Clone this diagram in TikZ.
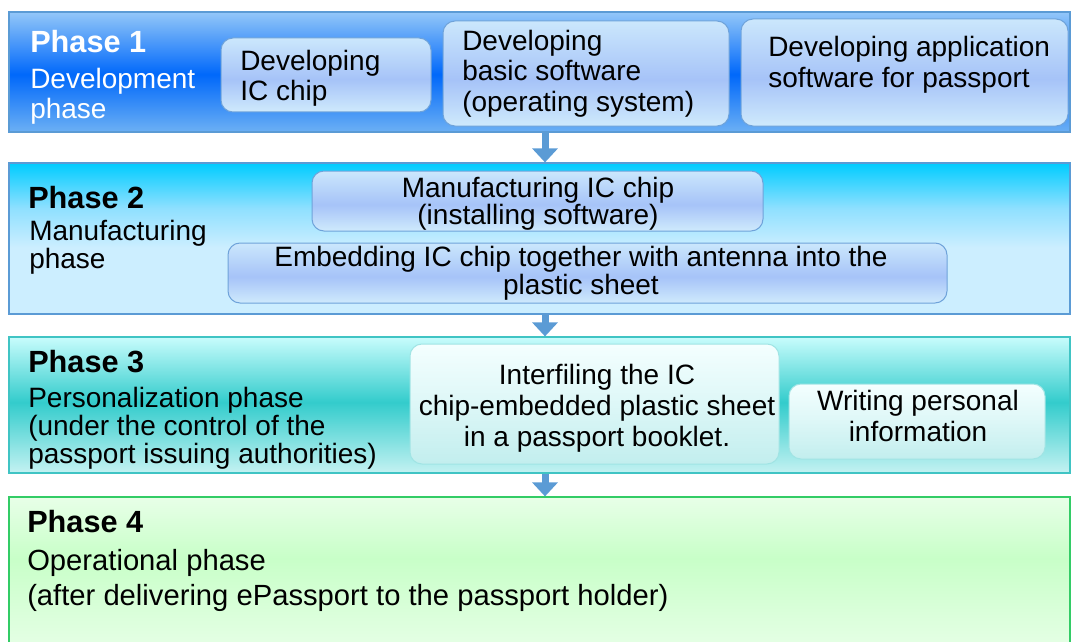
\documentclass[tikz,border=0pt]{standalone}
\usepackage{fontspec}
\setmainfont{Liberation Sans}
\usetikzlibrary{fit,arrows.meta}
\definecolor{p1t}{HTML}{93C7F9}
\definecolor{p1m}{HTML}{0068FA}
\definecolor{p1b}{HTML}{6CB0F4}
\definecolor{p2t}{HTML}{00CCFF}
\definecolor{p2m}{HTML}{8FE0FF}
\definecolor{p2b}{HTML}{CCEEFF}
\definecolor{p3t}{HTML}{C8FCFC}
\definecolor{p3m}{HTML}{33CCCC}
\definecolor{p3b}{HTML}{C4F2F2}
\definecolor{p4t}{HTML}{E8FFE8}
\definecolor{p4m}{HTML}{C8FFC8}
\definecolor{p4b}{HTML}{E6FFE6}
\definecolor{bxt}{HTML}{CBE7FC}
\definecolor{bxm}{HTML}{A6C3F8}
\definecolor{bxb}{HTML}{CFEAFC}
\definecolor{cxt}{HTML}{F4FFFF}
\definecolor{cxm}{HTML}{DDF7F7}
\definecolor{cxb}{HTML}{C2EEEE}
\definecolor{blueline}{HTML}{5B9BD5}
\definecolor{boxline}{HTML}{6FA3DA}
\definecolor{tealline}{HTML}{40C4C4}
\definecolor{cboxline}{HTML}{A0E4E4}
\definecolor{greenline}{HTML}{33CC66}
\pgfdeclareverticalshading{pone}{100bp}{color(0bp)=(p1b); color(25bp)=(p1b); color(49bp)=(p1m); color(75bp)=(p1t); color(100bp)=(p1t)}
\pgfdeclareverticalshading{ptwo}{100bp}{color(0bp)=(p2b); color(25bp)=(p2b); color(47bp)=(p2b); color(60bp)=(p2m); color(75bp)=(p2t); color(100bp)=(p2t)}
\pgfdeclareverticalshading{pthree}{100bp}{color(0bp)=(p3b); color(25bp)=(p3b); color(51bp)=(p3m); color(75bp)=(p3t); color(100bp)=(p3t)}
\pgfdeclareverticalshading{pfour}{100bp}{color(0bp)=(p4b); color(25bp)=(p4b); color(55bp)=(p4m); color(75bp)=(p4t); color(100bp)=(p4t)}
\pgfdeclareverticalshading{bluebox}{100bp}{color(0bp)=(bxb); color(25bp)=(bxb); color(47bp)=(bxm); color(75bp)=(bxt); color(100bp)=(bxt)}
\pgfdeclareverticalshading{cyanbox}{100bp}{color(0bp)=(cxb); color(25bp)=(cxb); color(50bp)=(cxm); color(75bp)=(cxt); color(100bp)=(cxt)}
\tikzset{
  panel/.style={inner sep=0pt, line width=0.9pt},
  bbox/.style={inner sep=0pt, rounded corners=9pt, line width=0.75pt, draw=boxline, shading=bluebox},
  cbox/.style={inner sep=0pt, rounded corners=9pt, line width=0.75pt, draw=cboxline, shading=cyanbox},
  txt/.style={inner sep=0pt, anchor=base west, align=left},
  ctxt/.style={inner sep=0pt, anchor=base, align=center},
  ttl/.style={inner sep=0pt, anchor=base west, font=\fontsize{23pt}{24pt}\selectfont\bfseries},
  flow/.style={draw=blueline, line width=5.25pt, -{Triangle[width=18.75pt,length=10.5pt]}}
}
\begin{document}
\begin{tikzpicture}[x=0.75pt,y=-0.75pt]
\useasboundingbox (0,0) rectangle (1071,642);
% panels
\node[panel, fit={(9,12) (1070,132)}, draw=blueline, shading=pone] (p1) {};
\node[panel, fit={(9,163) (1070,314)}, draw=blueline, shading=ptwo] (p2) {};
\node[panel, fit={(9,337) (1070,473)}, draw=tealline, shading=pthree] (p3) {};
\node[panel, fit={(9,497) (1070,650)}, draw=greenline, shading=pfour] (p4) {};
% phase 1 (anchors are at the baseline of the last line)
\node[ttl, text=white] (t1) at (30,53) {Phase 1};
\node[txt, text=white, font=\fontsize{21pt}{22.5pt}\selectfont] (d1) at (30,118) {Development\\phase};
\node[bbox, fit={(221,38) (431,112)}] (b11) {};
\node[txt, font=\fontsize{21pt}{22.5pt}\selectfont] (x11) at (240,100) {Developing\\IC chip};
\node[bbox, fit={(443,21) (729,126)}] (b12) {};
\node[txt, font=\fontsize{21pt}{23.25pt}\selectfont] (x12) at (462,112) {Developing\\basic software\\(operating system)};
\node[bbox, fit={(741,19) (1068,126)}] (b13) {};
\node[txt, font=\fontsize{21pt}{23.25pt}\selectfont] (x13) at (768,88) {Developing application\\software for passport};
% phase 2
\node[ttl] (t2) at (28,208) {Phase 2};
\node[txt, font=\fontsize{21pt}{21pt}\selectfont] (d2) at (29,268) {Manufacturing\\phase};
\node[bbox, fit={(312,171) (763,231)}] (b21) {};
\node[ctxt, font=\fontsize{21pt}{20.25pt}\selectfont] (x21) at (538,224) {Manufacturing IC chip\\(installing software)};
\node[bbox, fit={(228,243) (947,303)}] (b22) {};
\node[ctxt, font=\fontsize{21pt}{19.5pt}\selectfont] (x22) at (581,294) {Embedding IC chip together with antenna into the\\plastic sheet};
% phase 3
\node[ttl] (t3) at (28,372) {Phase 3};
\node[txt, font=\fontsize{21pt}{21pt}\selectfont] (d3) at (28,463) {Personalization phase\\(under the control of the\\passport issuing authorities)};
\node[cbox, fit={(410,344) (779,464)}] (b31) {};
\node[ctxt, font=\fontsize{21pt}{23.25pt}\selectfont] (x31) at (597,446) {Interfiling the IC\\chip-embedded plastic sheet\\in a passport booklet.};
\node[cbox, fit={(789,384) (1045,459)}] (b32) {};
\node[ctxt, font=\fontsize{21pt}{23.25pt}\selectfont] (x32) at (918,441) {Writing personal\\information};
% phase 4
\node[ttl] (t4) at (27,532) {Phase 4};
\node[txt, font=\fontsize{21.9pt}{26.25pt}\selectfont] (d4) at (27,605) {Operational phase\\(after delivering ePassport to the passport holder)};
% arrows
\coordinate (ax) at (545,0);
\draw[flow] (p1.south -| ax) -- (p2.north -| ax);
\draw[flow] (p2.south -| ax) -- (p3.north -| ax);
\draw[flow] (p3.south -| ax) -- (p4.north -| ax);
\end{tikzpicture}
\end{document}
